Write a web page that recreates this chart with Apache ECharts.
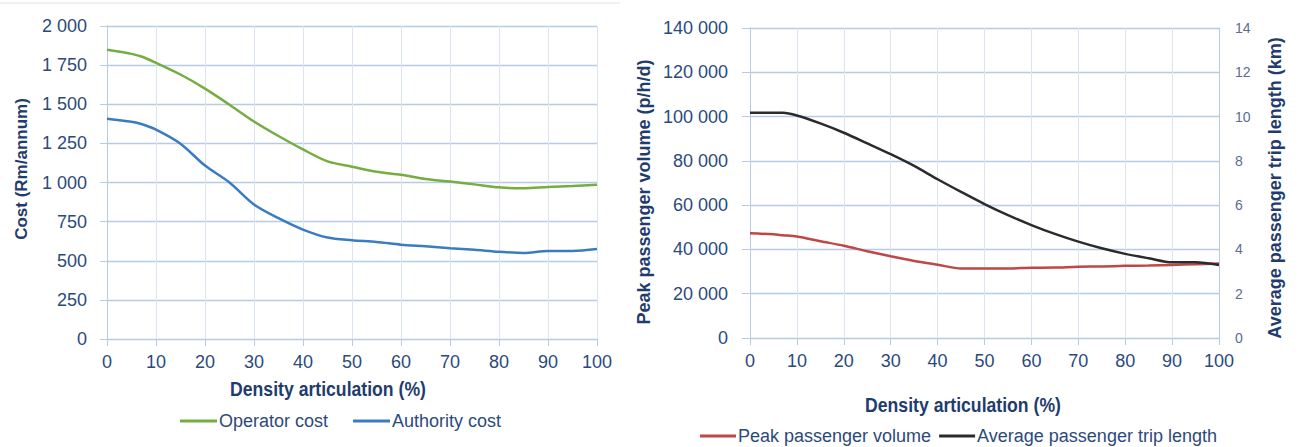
<!DOCTYPE html>
<html>
<head>
<meta charset="utf-8">
<script src="https://cdn.jsdelivr.net/npm/echarts@6/dist/echarts.min.js"></script>
<style>
html,body{margin:0;padding:0;background:#fff;}
#chart{width:1299px;height:447px;}
</style>
</head>
<body>
<div id="chart"></div>
<script>
// ---- Data ----
const xPct = [0, 5, 7, 10, 15, 20, 25, 30, 35, 40, 45, 50, 55, 60, 65, 70, 75, 80, 85, 90, 95, 100];
const operatorCost = [1848, 1822, 1805, 1765, 1690, 1600, 1497, 1390, 1297, 1211, 1135, 1101, 1068, 1049, 1022, 1006, 988, 969, 963, 971, 977, 985];
const authorityCost = [1408, 1388, 1374, 1338, 1248, 1108, 1000, 860, 772, 699, 648, 631, 620, 603, 592, 580, 570, 558, 550, 563, 563, 575];
const peakVolume = [47300, 46800, 46400, 45800, 43700, 41700, 39200, 36900, 34800, 33100, 31400, 31400, 31400, 31700, 31800, 32200, 32300, 32600, 32700, 33000, 33300, 33700];
const tripLength = [10.17, 10.17, 10.17, 10.05, 9.69, 9.27, 8.79, 8.30, 7.77, 7.17, 6.60, 6.05, 5.55, 5.10, 4.70, 4.35, 4.05, 3.80, 3.60, 3.42, 3.42, 3.30];

const seriesNames = ['Operator cost', 'Authority cost', 'Peak passenger volume', 'Average passenger trip length'];
const titles = {
  xLeft: 'Density articulation (%)',
  yLeft: 'Cost (Rm/annum)',
  xRight: 'Density articulation (%)',
  yRight1: 'Peak passenger volume (p/h/d)',
  yRight2: 'Average passenger trip length (km)'
};

// ---- Helpers ----
const pairs = (xs, ys) => xs.map((x, i) => [x, ys[i]]);
const fmt = v => String(v).replace(/\B(?=(\d{3})+(?!\d))/g, ' ');

const SANS = "'Liberation Sans', Arial, sans-serif";
const TICK_COLOR = '#2b4a7c';
const TITLE_COLOR = '#1f3c6e';
const AXIS_COLOR = '#b7cbe5';
const HGRID = '#b7cbe5';
const VGRID = '#dbe5f2';

const chart = echarts.init(document.getElementById('chart'), null, {renderer: 'svg'});

function xAxisDef(gridIndex) {
  return {
    type: 'value', gridIndex, min: 0, max: 100, interval: 10,
    axisLine: {show: true, lineStyle: {color: AXIS_COLOR, width: 1}},
    axisTick: {show: true, length: 7, lineStyle: {color: AXIS_COLOR}},
    axisLabel: {color: TICK_COLOR, fontFamily: SANS, fontSize: 18, margin: 14},
    splitLine: {show: true, lineStyle: {color: VGRID, width: 1}}
  };
}

const option = {
  backgroundColor: '#fff',
  animation: false,
  grid: [
    {left: 107, right: 702, top: 26, bottom: 108},
    {left: 750, right: 80, top: 28, bottom: 109}
  ],
  xAxis: [xAxisDef(0), xAxisDef(1)],
  yAxis: [
    {
      type: 'value', gridIndex: 0, min: 0, max: 2000, interval: 250,
      axisLine: {show: true, lineStyle: {color: AXIS_COLOR}},
      axisTick: {show: true, length: 7, lineStyle: {color: AXIS_COLOR}},
      axisLabel: {color: TICK_COLOR, fontFamily: SANS, fontSize: 18, margin: 20, formatter: fmt},
      splitLine: {show: true, lineStyle: {color: HGRID, width: 1.3}}
    },
    {
      type: 'value', gridIndex: 1, min: 0, max: 140000, interval: 20000,
      axisLine: {show: true, lineStyle: {color: AXIS_COLOR}},
      axisTick: {show: true, length: 8, lineStyle: {color: AXIS_COLOR}},
      axisLabel: {color: TICK_COLOR, fontFamily: SANS, fontSize: 18, margin: 22, formatter: fmt},
      splitLine: {show: true, lineStyle: {color: HGRID, width: 1.3}}
    },
    {
      type: 'value', gridIndex: 1, position: 'right', min: 0, max: 14, interval: 2,
      axisLine: {show: true, lineStyle: {color: AXIS_COLOR}},
      axisTick: {show: false},
      axisLabel: {color: '#5a6d8c', fontFamily: SANS, fontSize: 14, margin: 16},
      splitLine: {show: false}
    }
  ],
  legend: [
    {
      data: [seriesNames[0], seriesNames[1]],
      left: 180, top: 411, padding: 0, itemGap: 25,
      icon: 'rect', itemWidth: 37, itemHeight: 3,
      textStyle: {color: TICK_COLOR, fontFamily: SANS, fontSize: 18, lineHeight: 20, padding: [0, 0, 0, -3]}
    },
    {
      data: [seriesNames[2], seriesNames[3]],
      left: 700, top: 426, padding: 0, itemGap: 8,
      icon: 'rect', itemWidth: 36, itemHeight: 3,
      textStyle: {color: TICK_COLOR, fontFamily: SANS, fontSize: 18, lineHeight: 20, padding: [0, 0, 0, -3]}
    }
  ],
  series: [
    {
      name: seriesNames[0], type: 'line', xAxisIndex: 0, yAxisIndex: 0,
      data: pairs(xPct, operatorCost), smooth: 0.3, showSymbol: false,
      lineStyle: {color: '#76ad42', width: 2.5}, itemStyle: {color: '#76ad42'}
    },
    {
      name: seriesNames[1], type: 'line', xAxisIndex: 0, yAxisIndex: 0,
      data: pairs(xPct, authorityCost), smooth: 0.3, showSymbol: false,
      lineStyle: {color: '#3a7cc1', width: 2.5}, itemStyle: {color: '#3a7cc1'}
    },
    {
      name: seriesNames[2], type: 'line', xAxisIndex: 1, yAxisIndex: 1,
      data: pairs(xPct, peakVolume), smooth: 0.3, showSymbol: false,
      lineStyle: {color: '#bd4846', width: 2.5}, itemStyle: {color: '#bd4846'}
    },
    {
      name: seriesNames[3], type: 'line', xAxisIndex: 1, yAxisIndex: 2,
      data: pairs(xPct, tripLength), smooth: 0.3, showSymbol: false,
      lineStyle: {color: '#2b2b2b', width: 2.5}, itemStyle: {color: '#2b2b2b'}
    }
  ],
  graphic: [
    {type: 'line', shape: {x1: 0, y1: 3, x2: 620, y2: 3}, style: {stroke: '#e2e2e2', lineWidth: 1}},
    {type: 'text', x: 328, y: 388, scaleX: 0.84, style: {text: titles.xLeft, fill: TITLE_COLOR, font: "bold 21px " + SANS, textAlign: 'center', textVerticalAlign: 'middle'}},
    {type: 'text', x: 963, y: 404, scaleX: 0.84, style: {text: titles.xRight, fill: TITLE_COLOR, font: "bold 21px " + SANS, textAlign: 'center', textVerticalAlign: 'middle'}},
    {type: 'text', x: 21, y: 169, rotation: Math.PI / 2, style: {text: titles.yLeft, fill: TITLE_COLOR, font: "bold 17px " + SANS, textAlign: 'center', textVerticalAlign: 'middle'}},
    {type: 'text', x: 644, y: 192, rotation: Math.PI / 2, style: {text: titles.yRight1, fill: TITLE_COLOR, font: "bold 18px " + SANS, textAlign: 'center', textVerticalAlign: 'middle'}},
    {type: 'text', x: 1275, y: 188, rotation: Math.PI / 2, style: {text: titles.yRight2, fill: TITLE_COLOR, font: "bold 18px " + SANS, textAlign: 'center', textVerticalAlign: 'middle'}}
  ]
};
chart.setOption(option);
</script>
</body>
</html>
